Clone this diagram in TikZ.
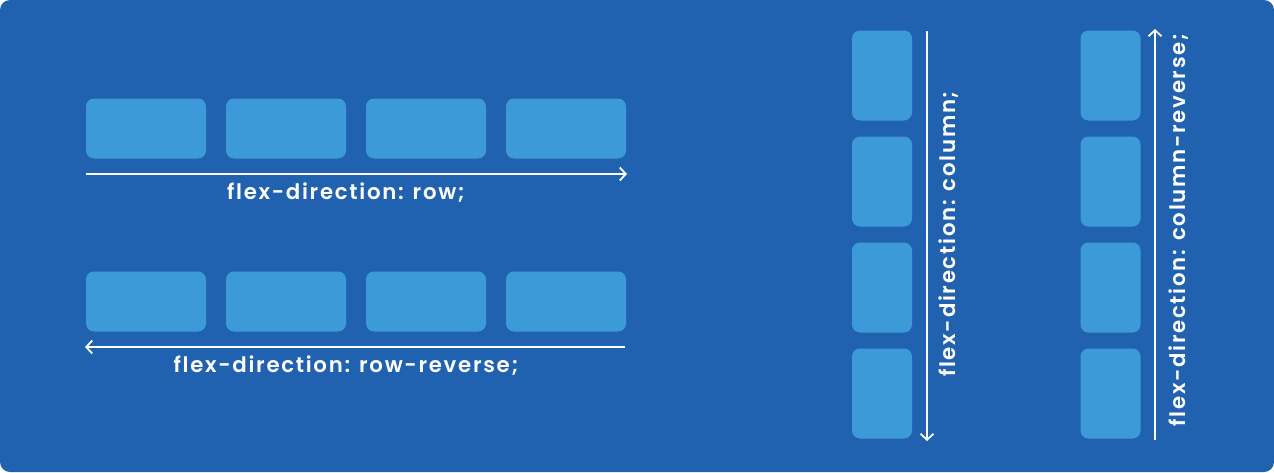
\documentclass[tikz,border=0pt]{standalone}
\usepackage{fontspec}
\setmainfont{Poppins}[BoldFont={Poppins SemiBold}]
\usetikzlibrary{arrows.meta}
\definecolor{bgblue}{HTML}{2062B0}
\definecolor{boxblue}{HTML}{3D9AD9}
\newfontfamily\lblfont{Poppins SemiBold}[LetterSpace=8]
\tikzset{
  hbox/.style={fill=boxblue, rounded corners=8pt, minimum width=120pt, minimum height=60pt, inner sep=0pt, draw=none},
  vbox/.style={fill=boxblue, rounded corners=8pt, minimum width=60pt, minimum height=90pt, inner sep=0pt, draw=none},
  flow/.style={draw=white, line width=1.8pt, -{Straight Barb[length=6pt,width=13pt,line width=1.8pt]}},
  lbl/.style={text=white, font=\lblfont\fontsize{21.3}{25}\selectfont, inner sep=0pt}
}
\begin{document}
\begin{tikzpicture}[x=1pt,y=-1pt]
\useasboundingbox (0,0) rectangle (1274,472);
\fill[white] (0,0) rectangle (1274,472);
\fill[bgblue, rounded corners=10pt] (0,0) rectangle (1274,472);
% row
\foreach \i/\x in {1/146,2/286,3/426,4/566}{
  \node[hbox] (r\i) at (\x,128.5) {};
  \node[hbox] (rr\i) at (\x,301.5) {};
}
\coordinate (ra) at (86,174);
\coordinate (rb) at (627,174);
\draw[flow] (ra) -- (rb);
\node[lbl] (rt) at (346,193) {flex-direction: row;};
\coordinate (rra) at (625,347);
\coordinate (rrb) at (85,347);
\draw[flow] (rra) -- (rrb);
\node[lbl] (rrt) at (346,366) {flex-direction: row-reverse;};
% columns
\foreach \i/\y in {1/75.5,2/181.5,3/287.5,4/393.5}{
  \node[vbox] (c\i) at (882,\y) {};
  \node[vbox] (cr\i) at (1110.5,\y) {};
}
\coordinate (ca) at (927,31);
\coordinate (cb) at (927,441);
\draw[flow] (ca) -- (cb);
\node[lbl, rotate=90] (ct) at (949,234) {flex-direction: column;};
\coordinate (cra) at (1155,440);
\coordinate (crb) at (1155,29);
\draw[flow] (cra) -- (crb);
\node[lbl, rotate=90] (crt) at (1179,230) {flex-direction: column-reverse;};
\end{tikzpicture}
\end{document}
